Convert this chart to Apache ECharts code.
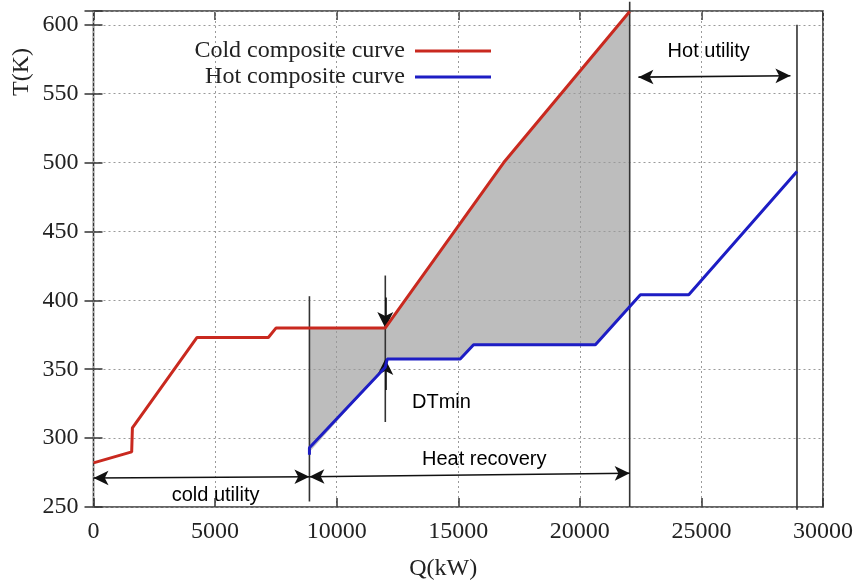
<!DOCTYPE html>
<html>
<head>
<meta charset="utf-8">
<script src="https://cdn.jsdelivr.net/npm/echarts@6/dist/echarts.min.js"></script>
<style>
  html, body { margin: 0; padding: 0; background: #fff; }
  #main { width: 861px; height: 587px; }
</style>
</head>
<body>
<div id="main"></div>
<script>
// composite curves (Q in kW, T in K)
var coldQ = [0, 1570, 1600, 4250, 7190, 7510, 12000, 16870, 22050];
var coldT = [282, 290, 307.5, 373, 373, 380, 380, 500, 609.6];
var hotQ = [8880, 8880, 12000, 12080, 15080, 15630, 20640, 22490, 24480, 28930];
var hotT = [288, 293, 351.5, 357.4, 357.4, 367.8, 367.8, 404, 404, 493.5];

// grey heat-recovery zone (red on top, blue below)
var shadeQ = [8880, 12000, 16870, 22050, 22050, 20640, 15630, 15080, 12080, 12000, 8880];
var shadeT = [380, 380, 500, 609.6, 396.8, 367.8, 367.8, 357.4, 357.4, 351.5, 290];

// vertical separators: [Q, Tfrom, Tto]
var dividers = [
  [8880, 254, 403],
  [12000, 311.7, 418],
  [22050, 250, 616.7],
  [28930, 248, 600]
];

// double arrows and DTmin arrows
var spanArrows = [
  [[0, 271], [8880, 272]],
  [[8880, 272], [22050, 274.5]],
  [[22410, 562], [28660, 563]]
];
var pinchArrows = [
  [[12000, 402], [12000, 380]],
  [[12000, 335], [12000, 357.4]]
];

// annotation texts: [Q, T, text]
var notes = [
  [5020, 258, 'cold utility'],
  [16070, 284.5, 'Heat recovery'],
  [14310, 326, 'DTmin'],
  [25300, 580.5, 'Hot utility']
];

var xTicks = { min: 0, max: 30000, interval: 5000 };
var yTicks = { min: 250, max: 610, interval: 50 };

function pairs(q, t) {
  return q.map(function (v, i) { return [v, t[i]]; });
}

var chart = echarts.init(document.getElementById('main'), null, { renderer: 'canvas' });

var serif = 'Liberation Serif';
var sans = 'Liberation Sans';

var series = [
  {
    type: 'custom',
    silent: true,
    z: 1,
    data: [[shadeQ[0], shadeT[0]]],
    renderItem: function (params, api) {
      var pts = shadeQ.map(function (q, i) { return api.coord([q, shadeT[i]]); });
      return { type: 'polygon', shape: { points: pts }, style: { fill: '#bdbdbd' } };
    }
  },
  {
    name: 'Cold composite curve',
    type: 'line',
    z: 5,
    symbol: 'none',
    itemStyle: { color: '#c9291f' },
    lineStyle: { color: '#c9291f', width: 3 },
    data: pairs(coldQ, coldT)
  },
  {
    name: 'Hot composite curve',
    type: 'line',
    z: 5,
    symbol: 'none',
    itemStyle: { color: '#1d1dc4' },
    lineStyle: { color: '#1d1dc4', width: 3 },
    data: pairs(hotQ, hotT)
  }
];

dividers.forEach(function (d) {
  series.push({
    type: 'line',
    z: 4,
    silent: true,
    clip: false,
    symbol: 'none',
    lineStyle: { color: '#333', width: 1.6 },
    data: [[d[0], d[1]], [d[0], d[2]]]
  });
});

series.push({
  type: 'line',
  z: 6,
  silent: true,
  data: [],
  markLine: {
    silent: true,
    symbol: ['arrow', 'arrow'],
    symbolSize: [11, 15],
    label: { show: false },
    lineStyle: { color: '#111', width: 1.6, type: 'solid' },
    emphasis: { disabled: true },
    data: spanArrows.map(function (a) { return [{ coord: a[0] }, { coord: a[1] }]; })
  }
});

series.push({
  type: 'line',
  z: 6,
  silent: true,
  data: [],
  markLine: {
    silent: true,
    symbol: ['none', 'arrow'],
    symbolSize: [12, 16],
    label: { show: false },
    lineStyle: { color: '#111', width: 1.6, type: 'solid' },
    emphasis: { disabled: true },
    data: pinchArrows.map(function (a) { return [{ coord: a[0] }, { coord: a[1] }]; })
  }
});

series.push({
  type: 'scatter',
  z: 7,
  silent: true,
  symbolSize: 0,
  itemStyle: { opacity: 1 },
  data: notes,
  label: {
    show: true,
    position: 'inside',
    formatter: function (p) { return p.data[2]; },
    fontFamily: sans,
    fontSize: 20,
    color: '#000'
  }
});

var tickStyle = { show: true, inside: true, length: 9, lineStyle: { color: '#333', width: 1.5 } };

chart.setOption({
  animation: false,
  backgroundColor: '#fff',
  grid: {
    left: 93.5, right: 38, top: 11, bottom: 80,
    show: true, borderColor: '#333', borderWidth: 1.6, backgroundColor: 'transparent'
  },
  legend: {
    orient: 'vertical',
    align: 'right',
    right: 365,
    top: 33,
    itemGap: 0,
    itemWidth: 76,
    itemHeight: 3,
    icon: 'rect',
    selectedMode: false,
    data: ['Cold composite curve', 'Hot composite curve'],
    textStyle: { fontFamily: serif, fontSize: 24, color: '#222', lineHeight: 26, padding: [0, 5, 0, 0] }
  },
  xAxis: [
    {
      type: 'value',
      z: 3,
      min: xTicks.min, max: xTicks.max, interval: xTicks.interval,
      name: 'Q(kW)',
      nameLocation: 'middle',
      nameGap: 50,
      nameTextStyle: { fontFamily: serif, fontSize: 24, color: '#222', padding: [0, 30, 0, 0] },
      axisLine: { show: false },
      axisTick: tickStyle,
      axisLabel: {
        fontFamily: serif, fontSize: 24, color: '#222', margin: 13,
        formatter: function (v) { return String(v); }
      },
      splitLine: { show: true, lineStyle: { color: '#9a9a9a', width: 1, type: [2, 3] } }
    },
    {
      type: 'value',
      position: 'top',
      min: xTicks.min, max: xTicks.max, interval: xTicks.interval,
      axisLine: { show: false },
      axisTick: tickStyle,
      axisLabel: { show: false },
      splitLine: { show: false }
    }
  ],
  yAxis: [
    {
      type: 'value',
      z: 3,
      min: yTicks.min, max: yTicks.max, interval: yTicks.interval,
      axisLine: { show: false },
      axisTick: tickStyle,
      axisLabel: {
        fontFamily: serif, fontSize: 24, color: '#222', margin: 15,
        formatter: function (v) { return v % 50 === 0 ? String(v) : ''; }
      },
      splitLine: { show: true, lineStyle: { color: '#9a9a9a', width: 1, type: [2, 3] } }
    },
    {
      type: 'value',
      position: 'right',
      min: yTicks.min, max: yTicks.max, interval: yTicks.interval,
      axisLine: { show: false },
      axisTick: tickStyle,
      axisLabel: { show: false },
      splitLine: { show: false }
    }
  ],
  graphic: [
    {
      type: 'text',
      x: 22, y: 72,
      rotation: Math.PI / 2,
      style: {
        text: 'T(K)', fontFamily: serif, fontSize: 24, fill: '#222',
        align: 'center', verticalAlign: 'middle'
      }
    }
  ],
  series: series
});
</script>
</body>
</html>
